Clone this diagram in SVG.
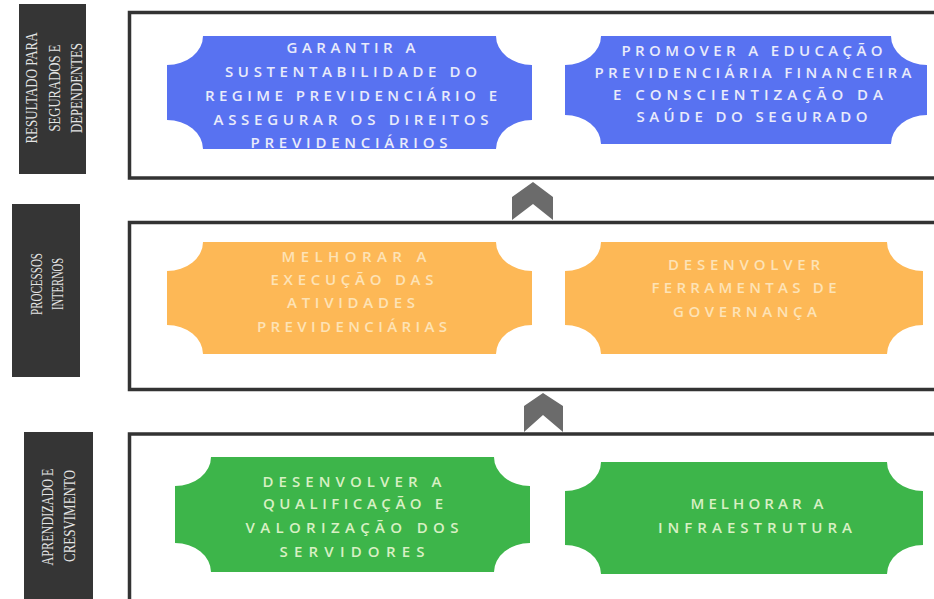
<svg xmlns="http://www.w3.org/2000/svg" width="934" height="599" viewBox="0 0 934 599">
<style>
.frame{fill:#fff;stroke:#333;stroke-width:3.5}
.lbl{fill:#353535}
.lt{font-family:"Liberation Serif","DejaVu Serif",serif;font-size:16px;fill:#e4e4e4;text-anchor:middle}
.nt{font-family:"Open Sans","Liberation Sans",sans-serif;font-size:15px;text-anchor:middle;font-weight:600}
.blue{fill:#5872f1}
.orange{fill:#fdb856}
.green{fill:#3db54a}
.tb{fill:#e9ebfb}
.to{fill:#fde3b6}
.tg{fill:#d8f0c4}
.chev{fill:#6b6b6b}
</style>
<rect width="934" height="599" fill="#fff"/>
<g id="lane1">
<rect class="frame" x="129.5" y="12.5" width="820" height="165.5"/>
<rect class="lbl" x="19" y="4" width="67" height="170"/>
<text class="lt" transform="translate(37,88) rotate(-90)" textLength="111" lengthAdjust="spacingAndGlyphs">RESULTADO PARA</text>
<text class="lt" transform="translate(59.5,88) rotate(-90)" textLength="87" lengthAdjust="spacingAndGlyphs">SEGURADOS E</text>
<text class="lt" transform="translate(81.5,88) rotate(-90)" textLength="90" lengthAdjust="spacingAndGlyphs">DEPENDENTES</text>
</g>
<g id="lane2">
<rect class="frame" x="129.5" y="222.5" width="820" height="167"/>
<rect class="lbl" x="12" y="204" width="68" height="173"/>
<text class="lt" transform="translate(42,284) rotate(-90)" textLength="62" lengthAdjust="spacingAndGlyphs">PROCESSOS</text>
<text class="lt" transform="translate(63,284) rotate(-90)" textLength="52" lengthAdjust="spacingAndGlyphs">INTERNOS</text>
</g>
<g id="lane3">
<rect class="frame" x="129.5" y="434" width="820" height="200"/>
<rect class="lbl" x="24" y="432" width="69" height="180"/>
<text class="lt" transform="translate(53,517) rotate(-90)" textLength="97" lengthAdjust="spacingAndGlyphs">APRENDIZADO E</text>
<text class="lt" transform="translate(75,516) rotate(-90)" textLength="92" lengthAdjust="spacingAndGlyphs">CRESVIMENTO</text>
</g>
<g id="connectors">
<polygon class="chev" points="512,197 533,182 553,197 553,220 533,204 512,220"/>
<polygon class="chev" points="524,406 543,393 563,406 563,432 543,415 524,432"/>
</g>
<g id="node-garantir">
<path class="blue" d="M203,36 H496 A36,29 0 0 0 532,65 V120 A36,29 0 0 0 496,149 H203 A36,29 0 0 0 167,120 V65 A36,29 0 0 0 203,36 Z"/>
<text class="nt tb" x="351" y="53" textLength="129" lengthAdjust="spacing">GARANTIR A</text>
<text class="nt tb" x="351" y="77" textLength="252" lengthAdjust="spacing">SUSTENTABILIDADE DO</text>
<text class="nt tb" x="351" y="101" textLength="292" lengthAdjust="spacing">REGIME PREVIDENCIÁRIO E</text>
<text class="nt tb" x="351" y="125" textLength="275" lengthAdjust="spacing">ASSEGURAR OS DIREITOS</text>
<text class="nt tb" x="349" y="148" textLength="197" lengthAdjust="spacing">PREVIDENCIÁRIOS</text>
</g>
<g id="node-promover">
<path class="blue" d="M601,36 H891 A36,29 0 0 0 927,65 V115 A36,29 0 0 0 891,144 H601 A36,29 0 0 0 565,115 V65 A36,29 0 0 0 601,36 Z"/>
<text class="nt tb" x="752" y="56" textLength="261" lengthAdjust="spacing">PROMOVER A EDUCAÇÃO</text>
<text class="nt tb" x="753" y="78" textLength="317" lengthAdjust="spacing">PREVIDENCIÁRIA FINANCEIRA</text>
<text class="nt tb" x="748" y="100" textLength="270" lengthAdjust="spacing">E CONSCIENTIZAÇÃO DA</text>
<text class="nt tb" x="752" y="122" textLength="231" lengthAdjust="spacing">SAÚDE DO SEGURADO</text>
</g>
<g id="node-melhorar-execucao">
<path class="orange" d="M203,242 H496 A36,29 0 0 0 532,271 V325 A36,29 0 0 0 496,354 H203 A36,29 0 0 0 167,325 V271 A36,29 0 0 0 203,242 Z"/>
<text class="nt to" x="354" y="262" textLength="145" lengthAdjust="spacing">MELHORAR A</text>
<text class="nt to" x="352" y="285" textLength="163" lengthAdjust="spacing">EXECUÇÃO DAS</text>
<text class="nt to" x="351" y="308" textLength="128" lengthAdjust="spacing">ATIVIDADES</text>
<text class="nt to" x="352" y="332" textLength="190" lengthAdjust="spacing">PREVIDENCIÁRIAS</text>
</g>
<g id="node-governanca">
<path class="orange" d="M601,242 H887 A36,29 0 0 0 923,271 V325 A36,29 0 0 0 887,354 H601 A36,29 0 0 0 565,325 V271 A36,29 0 0 0 601,242 Z"/>
<text class="nt to" x="744" y="270" textLength="152" lengthAdjust="spacing">DESENVOLVER</text>
<text class="nt to" x="744" y="293" textLength="185" lengthAdjust="spacing">FERRAMENTAS DE</text>
<text class="nt to" x="745" y="317" textLength="144" lengthAdjust="spacing">GOVERNANÇA</text>
</g>
<g id="node-qualificacao">
<path class="green" d="M211,457 H494 A36,29 0 0 0 530,486 V543 A36,29 0 0 0 494,572 H211 A36,29 0 0 0 175,543 V486 A36,29 0 0 0 211,457 Z"/>
<text class="nt tg" x="352" y="487" textLength="179" lengthAdjust="spacing">DESENVOLVER A</text>
<text class="nt tg" x="353" y="509" textLength="180" lengthAdjust="spacing">QUALIFICAÇÃO E</text>
<text class="nt tg" x="352" y="533" textLength="213" lengthAdjust="spacing">VALORIZAÇÃO DOS</text>
<text class="nt tg" x="352" y="557" textLength="145" lengthAdjust="spacing">SERVIDORES</text>
</g>
<g id="node-infraestrutura">
<path class="green" d="M601,462 H887 A36,29 0 0 0 923,491 V545 A36,29 0 0 0 887,574 H601 A36,29 0 0 0 565,545 V491 A36,29 0 0 0 601,462 Z"/>
<text class="nt tg" x="757" y="509" textLength="133" lengthAdjust="spacing">MELHORAR A</text>
<text class="nt tg" x="755" y="533" textLength="194" lengthAdjust="spacing">INFRAESTRUTURA</text>
</g>
</svg>
